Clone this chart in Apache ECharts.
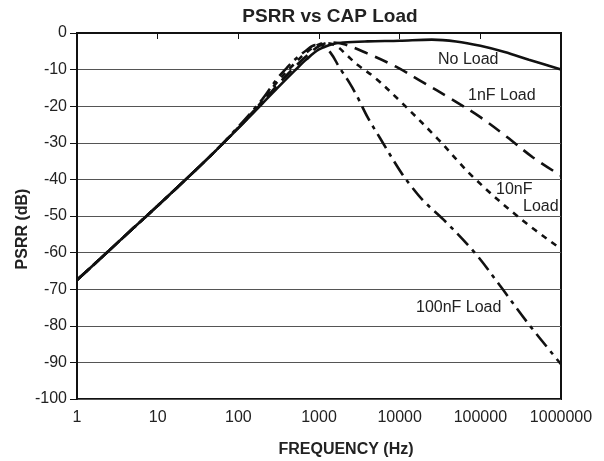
<!DOCTYPE html>
<html>
<head>
<meta charset="utf-8">
<script src="https://cdn.jsdelivr.net/npm/echarts@6/dist/echarts.min.js"></script>
<style>
html,body{margin:0;padding:0;background:#fff;}
#chart{width:604px;height:461px;}
</style>
</head>
<body>
<div id="chart"></div>
<script>
// Tick labels
const yTicks = [0, -10, -20, -30, -40, -50, -60, -70, -80, -90, -100];
const xTicks = [1, 10, 100, 1000, 10000, 100000, 1000000];

// No Load
const noLoadFreq = [1, 2, 5, 10, 20, 50, 100, 200, 300, 500, 700, 1000, 1500, 2000, 4000, 10000, 25000, 50000, 100000, 200000, 400000, 1000000];
const noLoadDb   = [-67.5, -61.4, -53.3, -47.2, -41, -32.6, -26, -19.2, -15.2, -10.3, -7.2, -4.5, -3, -2.6, -2.3, -2.1, -1.8, -2.3, -3.5, -5.2, -7.3, -10];

// 1nF Load
const nf1Freq = [1, 2, 5, 10, 20, 50, 100, 200, 300, 500, 700, 1000, 1400, 2000, 3900, 9000, 19500, 42000, 100000, 214000, 450000, 1000000];
const nf1Db   = [-67.5, -61.4, -53.3, -47.2, -41, -32.6, -25.9, -18.9, -14.4, -9.3, -6.3, -3.6, -2.6, -3, -5.5, -9.2, -13.5, -17.8, -23, -28.4, -34, -39];

// 10nF Load
const nf10Freq = [1, 2, 5, 10, 20, 50, 100, 200, 300, 500, 700, 1000, 1300, 1700, 2200, 3000, 5000, 10000, 29000, 81000, 309000, 1000000];
const nf10Db   = [-67.5, -61.4, -53.3, -47.2, -41, -32.6, -25.8, -18.5, -13.5, -8.3, -5.3, -3.1, -2.8, -3.8, -6, -8.7, -12.3, -18.5, -28.7, -39.3, -50.6, -59];

// 100nF Load
const nf100Freq = [1, 2, 5, 10, 20, 50, 100, 200, 300, 400, 500, 700, 900, 1100, 1400, 1800, 2400, 3000, 4000, 5700, 10000, 13500, 20000, 35000, 85000, 175000, 380000, 1000000];
const nf100Db   = [-67.5, -61.4, -53.3, -47.2, -41, -32.6, -25.6, -18, -12.6, -9.5, -7.3, -4.7, -3.3, -3.5, -5.5, -9.5, -13.7, -17.5, -23, -28.7, -37.5, -41.5, -46, -51, -60, -69, -79, -90.5];

function pairs(f, d) { return f.map((v, i) => [v, d[i]]); }

const chart = echarts.init(document.getElementById('chart'), null, {renderer: 'canvas'});
const FONT = 'Liberation Sans, Arial, sans-serif';

function lineSeries(name, f, d, type) {
  return {
    name: name,
    type: 'line',
    data: pairs(f, d),
    showSymbol: false,
    smooth: 0.35,
    lineStyle: {color: '#111', width: 2.6, type: type, cap: 'butt'},
    z: 5
  };
}

chart.setOption({
  animation: false,
  backgroundColor: '#fff',
  grid: {left: 77, right: 43, top: 33, bottom: 62, show: true, borderColor: '#111', borderWidth: 2},
  xAxis: {
    type: 'log', logBase: 10, min: 1, max: 1000000,
    axisLine: {show: true, lineStyle: {color: '#111', width: 2}},
    axisTick: {show: true, length: 6, lineStyle: {color: '#111', width: 1}},
    axisLabel: {fontFamily: FONT, fontSize: 16, color: '#222', margin: 11,
      formatter: v => String(Math.round(v))},
    splitLine: {show: false},
    minorTick: {show: false}
  },
  yAxis: {
    type: 'value', min: -100, max: 0, interval: 10,
    axisLine: {show: true, lineStyle: {color: '#111', width: 2}},
    axisTick: {show: true, length: 7, inside: false, lineStyle: {color: '#111', width: 1}},
    axisLabel: {fontFamily: FONT, fontSize: 16, color: '#222', margin: 10},
    splitLine: {show: true, lineStyle: {color: '#555', width: 1}}
  },
  graphic: [
    {type: 'text', x: 330, y: 17, style: {text: 'PSRR vs CAP Load', font: 'bold 19px ' + FONT, fill: '#222', align: 'center', verticalAlign: 'middle'}, z: 10},
    {type: 'text', x: 346, y: 450, style: {text: 'FREQUENCY (Hz)', font: 'bold 16px ' + FONT, fill: '#222', align: 'center', verticalAlign: 'middle'}, z: 10},
    {type: 'text', x: 23, y: 229, rotation: Math.PI / 2, style: {text: 'PSRR (dB)', font: 'bold 16px ' + FONT, fill: '#222', align: 'center', verticalAlign: 'middle'}, z: 10},
    {type: 'text', x: 438, y: 60, style: {text: 'No Load', font: '16px ' + FONT, fill: '#222', verticalAlign: 'middle'}, z: 10},
    {type: 'text', x: 468, y: 96, style: {text: '1nF Load', font: '16px ' + FONT, fill: '#222', verticalAlign: 'middle'}, z: 10},
    {type: 'text', x: 496, y: 190, style: {text: '10nF', font: '16px ' + FONT, fill: '#222', verticalAlign: 'middle'}, z: 10},
    {type: 'text', x: 523, y: 207, style: {text: 'Load', font: '16px ' + FONT, fill: '#222', verticalAlign: 'middle'}, z: 10},
    {type: 'text', x: 416, y: 308, style: {text: '100nF Load', font: '16px ' + FONT, fill: '#222', verticalAlign: 'middle'}, z: 10}
  ],
  series: [
    lineSeries('No Load', noLoadFreq, noLoadDb, 'solid'),
    lineSeries('1nF Load', nf1Freq, nf1Db, [14, 8]),
    lineSeries('10nF Load', nf10Freq, nf10Db, [6, 6]),
    lineSeries('100nF Load', nf100Freq, nf100Db, [16, 6, 4, 6])
  ]
});
</script>
</body>
</html>
